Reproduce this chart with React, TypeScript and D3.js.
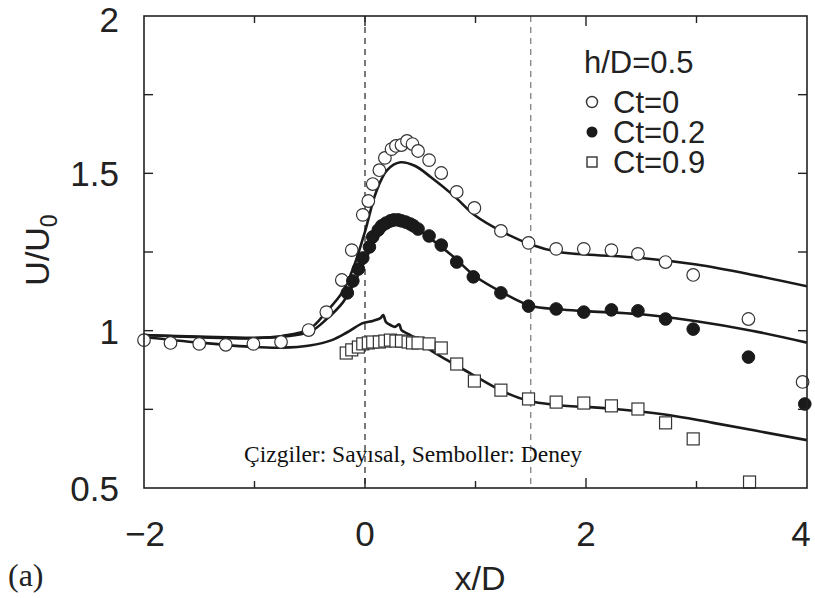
import React from "react";
import * as d3 from "d3";

// ---------- data ----------
const xTicks = [-2, 0, 2, 4];
const xMinorTicks = [-1, 0, 1, 2, 3];
const yTicks = [0.5, 1, 1.5, 2];
const yMinorTicks = [0.75, 1, 1.25, 1.5, 1.75];
const dashedX = [0, 1.5];

// experiment, Ct=0 (open circles)
const expCt0X = [-2.0, -1.76, -1.5, -1.26, -1.01, -0.76, -0.51, -0.35, -0.21, -0.12, -0.02, 0.03, 0.07, 0.13, 0.18, 0.24, 0.28, 0.33, 0.38, 0.43, 0.48, 0.58, 0.69, 0.83, 0.99, 1.23, 1.48, 1.73, 1.98, 2.23, 2.47, 2.72, 2.97, 3.47, 3.96];
const expCt0Y = [0.97, 0.961, 0.958, 0.955, 0.958, 0.964, 1.002, 1.059, 1.161, 1.256, 1.368, 1.412, 1.466, 1.51, 1.549, 1.577, 1.587, 1.59, 1.603, 1.593, 1.571, 1.542, 1.501, 1.441, 1.39, 1.317, 1.279, 1.26, 1.26, 1.256, 1.244, 1.218, 1.177, 1.037, 0.837];

// experiment, Ct=0.2 (filled circles)
const expCt02X = [-0.16, -0.11, -0.06, -0.02, 0.04, 0.07, 0.12, 0.15, 0.19, 0.23, 0.26, 0.3, 0.33, 0.37, 0.41, 0.44, 0.48, 0.58, 0.69, 0.83, 0.98, 1.23, 1.48, 1.73, 1.98, 2.23, 2.47, 2.72, 2.97, 3.47, 3.98];
const expCt02Y = [1.12, 1.158, 1.196, 1.231, 1.266, 1.298, 1.32, 1.333, 1.342, 1.349, 1.352, 1.352, 1.349, 1.345, 1.339, 1.333, 1.323, 1.301, 1.272, 1.218, 1.171, 1.12, 1.078, 1.069, 1.059, 1.066, 1.063, 1.037, 1.005, 0.916, 0.767];

// experiment, Ct=0.9 (open squares)
const expCt09X = [-0.17, -0.12, -0.06, -0.02, 0.03, 0.07, 0.13, 0.18, 0.23, 0.28, 0.33, 0.39, 0.43, 0.48, 0.58, 0.69, 0.83, 0.99, 1.23, 1.48, 1.73, 1.98, 2.23, 2.47, 2.72, 2.97, 3.48];
const expCt09Y = [0.929, 0.939, 0.948, 0.958, 0.961, 0.964, 0.964, 0.967, 0.97, 0.967, 0.967, 0.964, 0.961, 0.961, 0.958, 0.945, 0.894, 0.84, 0.811, 0.783, 0.773, 0.77, 0.761, 0.751, 0.707, 0.656, 0.519];

// numerical, Ct=0
const numCt0X = [-2, -1.5, -1, -0.75, -0.5, -0.35, -0.2, -0.1, 0, 0.1, 0.2, 0.32, 0.45, 0.6, 0.8, 1.0, 1.25, 1.5, 1.75, 2.0, 2.5, 3.0, 3.5, 4.0];
const numCt0Y = [0.986, 0.979, 0.976, 0.983, 1.006, 1.06, 1.125, 1.205, 1.315, 1.44, 1.51, 1.535, 1.524, 1.487, 1.43, 1.365, 1.313, 1.274, 1.25, 1.242, 1.231, 1.21, 1.178, 1.141];

// numerical, Ct=0.2
const numCt02X = [-2, -1.5, -1, -0.75, -0.5, -0.35, -0.2, -0.1, 0, 0.1, 0.2, 0.3, 0.4, 0.5, 0.6, 0.8, 1.0, 1.25, 1.5, 1.75, 2.0, 2.5, 3.0, 3.5, 4.0];
const numCt02Y = [0.986, 0.981, 0.977, 0.981, 0.996, 1.036, 1.09, 1.15, 1.222, 1.29, 1.326, 1.338, 1.333, 1.316, 1.291, 1.235, 1.172, 1.12, 1.079, 1.068, 1.062, 1.052, 1.03, 1.0, 0.962];

// numerical, Ct=0.9
const numCt09X = [-2, -1.5, -1, -0.75, -0.5, -0.3, -0.16, -0.02, 0.07, 0.14, 0.165, 0.19, 0.23, 0.27, 0.31, 0.33, 0.41, 0.59, 0.74, 0.95, 1.23, 1.48, 1.73, 2.24, 2.73, 3.15, 4.0];
const numCt09Y = [0.98, 0.962, 0.948, 0.946, 0.953, 0.97, 0.995, 1.024, 1.031, 1.04, 1.05, 1.027, 1.018, 1.012, 1.02, 1.002, 0.986, 0.939, 0.907, 0.865, 0.81, 0.777, 0.764, 0.752, 0.733, 0.707, 0.652];

const legendTitle = "h/D=0.5";
const legendLabels = ["Ct=0", "Ct=0.2", "Ct=0.9"];
const noteText = "Çizgiler: Sayısal, Semboller: Deney";

// ---------- layout ----------
const W = 815;
const H = 598;
const L = 144, R = 807, T = 16, B = 488;
const SANS = "'Liberation Sans', Arial, Helvetica, sans-serif";
const SERIF = "'Liberation Serif', 'Times New Roman', serif";

export default function App() {
  const x = d3.scaleLinear().domain([-2, 4]).range([L, R]);
  const y = d3.scaleLinear().domain([0.5, 2]).range([B, T]);

  const line = d3
    .line<[number, number]>()
    .x((d) => x(d[0]))
    .y((d) => y(d[1]))
    .curve(d3.curveCatmullRom.alpha(0.5));

  const zip = (a: number[], b: number[]) => a.map((v, i) => [v, b[i]] as [number, number]);

  const lines = [zip(numCt0X, numCt0Y), zip(numCt02X, numCt02Y), zip(numCt09X, numCt09Y)];

  const r = 6.3;
  const sq = 12;
  const mk = "#333";

  return (
    <svg
      width={W}
      height={H}
      viewBox={`0 0 ${W} ${H}`}
      style={{ position: "absolute", left: 0, top: 0, background: "#fff" }}
    >
      <rect x={0} y={0} width={W} height={H} fill="#fff" />
      <defs>
        <clipPath id="plot">
          <rect x={L} y={T} width={R - L} height={B - T} />
        </clipPath>
      </defs>

      {/* dashed lines */}
      {dashedX.map((d, i) => (
        <line
          key={"dash" + i}
          x1={x(d)}
          x2={x(d)}
          y1={T}
          y2={B}
          stroke={i === 0 ? "#222" : "#777"}
          strokeWidth={1.2}
          strokeDasharray="6,5"
        />
      ))}

      {/* numerical lines */}
      <g clipPath="url(#plot)">
        {lines.map((pts, i) => (
          <path key={"l" + i} d={line(pts) || ""} fill="none" stroke="#1a1a1a" strokeWidth={2.6} strokeLinejoin="round" />
        ))}
      </g>

      {/* markers */}
      {zip(expCt0X, expCt0Y).map((d, i) => (
        <circle key={"c0" + i} cx={x(d[0])} cy={y(d[1])} r={r} fill="#fff" stroke={mk} strokeWidth={1.2} />
      ))}
      {zip(expCt02X, expCt02Y).map((d, i) => (
        <circle key={"c2" + i} cx={x(d[0])} cy={y(d[1])} r={r} fill="#1a1a1a" stroke="#1a1a1a" strokeWidth={1} />
      ))}
      {zip(expCt09X, expCt09Y).map((d, i) => (
        <rect
          key={"s9" + i}
          x={x(d[0]) - sq / 2}
          y={y(d[1]) - sq / 2}
          width={sq}
          height={sq}
          fill="#fff"
          stroke={mk}
          strokeWidth={1.2}
        />
      ))}

      {/* frame */}
      <rect x={L} y={T} width={R - L} height={B - T} fill="none" stroke="#222" strokeWidth={1.6} />

      {/* x ticks */}
      {xMinorTicks.map((t) => (
        <g key={"xt" + t}>
          <line x1={x(t)} x2={x(t)} y1={B} y2={B - (t % 2 === 0 ? 10 : 7)} stroke="#222" strokeWidth={1.4} />
          <line x1={x(t)} x2={x(t)} y1={T} y2={T + (t % 2 === 0 ? 10 : 7)} stroke="#222" strokeWidth={1.4} />
        </g>
      ))}
      {/* y ticks */}
      {yMinorTicks.map((t) => (
        <g key={"yt" + t}>
          <line x1={L} x2={L + 9} y1={y(t)} y2={y(t)} stroke="#222" strokeWidth={1.4} />
          <line x1={R} x2={R - 9} y1={y(t)} y2={y(t)} stroke="#222" strokeWidth={1.4} />
        </g>
      ))}

      {/* tick labels */}
      {xTicks.map((t) => (
        <text
          key={"xl" + t}
          x={x(t) - (t === 4 ? 6 : t === -2 ? -1 : 0)}
          y={546}
          textAnchor="middle"
          fontFamily={SANS}
          fontSize={35}
          fill="#222"
        >
          {t < 0 ? "\u2212" + Math.abs(t) : String(t)}
        </text>
      ))}
      {yTicks.map((t) => (
        <text
          key={"yl" + t}
          x={119}
          y={Math.max(y(t) + 13, 32)}
          textAnchor="end"
          fontFamily={SANS}
          fontSize={35}
          fill="#222"
        >
          {String(t)}
        </text>
      ))}

      {/* axis titles */}
      <text x={480} y={590} textAnchor="middle" fontFamily={SANS} fontSize={34} fill="#222">
        x/D
      </text>
      <text
        transform={`translate(49, 250) rotate(-90)`}
        textAnchor="middle"
        fontFamily={SANS}
        fontSize={34}
        fill="#222"
      >
        U/U<tspan fontSize={23} dy={8}>0</tspan>
      </text>

      {/* (a) */}
      <text x={8} y={586} fontFamily={SERIF} fontSize={32} fill="#222">
        (a)
      </text>

      {/* note */}
      <text x={244} y={462} fontFamily={SERIF} fontSize={23.5} fill="#111">
        {noteText}
      </text>

      {/* legend */}
      <text x={584} y={73} fontFamily={SANS} fontSize={31} fill="#222">
        {legendTitle}
      </text>
      {legendLabels.map((lab, i) => {
        const cy = 102 + i * 30;
        return (
          <g key={"lg" + i}>
            {i === 0 && <circle cx={592} cy={cy} r={5.5} fill="#fff" stroke={mk} strokeWidth={1.4} />}
            {i === 1 && <circle cx={592} cy={cy} r={5.5} fill="#1a1a1a" />}
            {i === 2 && <rect x={587} y={cy - 5} width={10} height={10} fill="#fff" stroke={mk} strokeWidth={1.4} />}
            <text x={613} y={cy + 11} fontFamily={SANS} fontSize={31} fill="#222">
              {lab}
            </text>
          </g>
        );
      })}
    </svg>
  );
}
